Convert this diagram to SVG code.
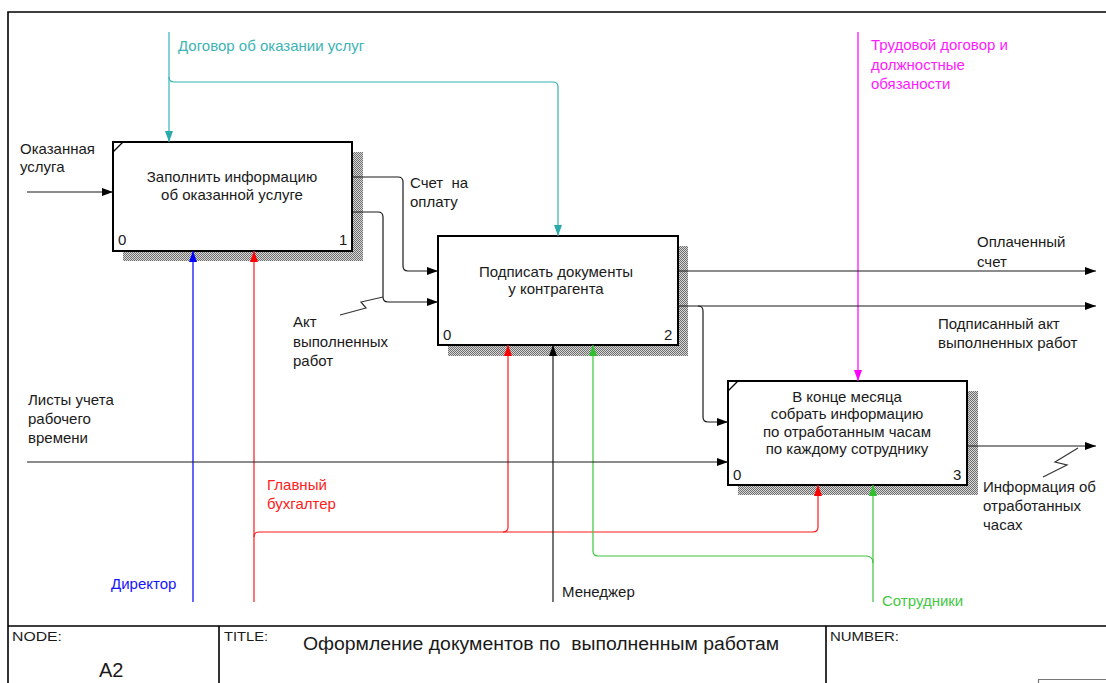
<svg xmlns="http://www.w3.org/2000/svg" width="1106" height="683" viewBox="0 0 1106 683">
  <defs>
    <style>
      text { font-family: "Liberation Sans", Arial, sans-serif; font-size: 15px; fill: #1a1a1a; white-space: pre; }
      .box { fill: #ffffff; stroke: #000000; stroke-width: 2; }
      .shadow { fill: url(#hatch); }
      .ctr { text-anchor: middle; }
      .conn path { fill: none; stroke-width: 1.2; }
      .blk { stroke: #1a1a1a; }
      .teal { stroke: #38b2b2; }
      .red { stroke: #ff1a1a; }
      .blue { stroke: #0000ff; }
      .green { stroke: #3ec43e; }
      .mag { stroke: #ff00ff; }
      .zig { stroke: #333333; stroke-width: 1; }
      .frame { fill: none; stroke: #000000; stroke-width: 1.6; }
      .tb { font-size: 13px; }
    </style>
    <pattern id="hatch" width="2" height="2" patternUnits="userSpaceOnUse">
      <rect width="2" height="2" fill="#d8d8d8"/>
      <rect width="1" height="1" fill="#6e6e6e"/>
      <rect x="1" y="1" width="1" height="1" fill="#6e6e6e"/>
    </pattern>
    <marker id="ah" markerUnits="userSpaceOnUse" markerWidth="11" markerHeight="8" refX="11" refY="4" orient="auto">
      <path d="M0,0 L11,4 L0,8 z" fill="#000000"/>
    </marker>
    <marker id="ah-teal" markerUnits="userSpaceOnUse" markerWidth="11" markerHeight="8" refX="11" refY="4" orient="auto">
      <path d="M0,0 L11,4 L0,8 z" fill="#2aabab"/>
    </marker>
    <marker id="ah-red" markerUnits="userSpaceOnUse" markerWidth="11" markerHeight="8" refX="11" refY="4" orient="auto">
      <path d="M0,0 L11,4 L0,8 z" fill="#ff0000"/>
    </marker>
    <marker id="ah-blue" markerUnits="userSpaceOnUse" markerWidth="11" markerHeight="8" refX="11" refY="4" orient="auto">
      <path d="M0,0 L11,4 L0,8 z" fill="#0000ff"/>
    </marker>
    <marker id="ah-green" markerUnits="userSpaceOnUse" markerWidth="11" markerHeight="8" refX="11" refY="4" orient="auto">
      <path d="M0,0 L11,4 L0,8 z" fill="#2fbf2f"/>
    </marker>
    <marker id="ah-mag" markerUnits="userSpaceOnUse" markerWidth="11" markerHeight="8" refX="11" refY="4" orient="auto">
      <path d="M0,0 L11,4 L0,8 z" fill="#ff00ff"/>
    </marker>
  </defs>

  <rect width="1106" height="683" fill="#ffffff"/>

  <!-- drawing frame and title block -->
  <g id="frame">
    <path class="frame" d="M8,683 V12 H1106"/>
    <path class="frame" d="M8,626 H1106 M219,626 V683 M826,626 V683"/>
    <path d="M1038.5,683 V679.5 H1106" fill="none" stroke="#777777" stroke-width="1.2"/>
    <text class="tb" x="12" y="641" textLength="50" lengthAdjust="spacingAndGlyphs">NODE:</text>
    <text class="tb" x="224" y="641" textLength="44" lengthAdjust="spacingAndGlyphs">TITLE:</text>
    <text class="tb" x="830" y="641" textLength="69" lengthAdjust="spacingAndGlyphs">NUMBER:</text>
    <text x="99" y="677" style="font-size:20px">A2</text>
    <text x="303" y="650" style="font-size:18px" textLength="476" lengthAdjust="spacingAndGlyphs">Оформление документов по  выполненным работам</text>
  </g>

  <!-- activity boxes -->
  <g id="node-a21">
    <rect class="shadow" x="123" y="152" width="240" height="109"/>
    <rect class="box" x="113" y="142" width="239" height="109"/>
    <path d="M113,152 L123,142" stroke="#000" stroke-width="1.2"/>
    <text class="ctr" x="232" y="182">Заполнить информацию</text>
    <text class="ctr" x="232" y="200">об оказанной услуге</text>
    <text x="118" y="245">0</text>
    <text x="339" y="245">1</text>
  </g>

  <g id="node-a22">
    <rect class="shadow" x="448" y="246" width="240" height="110"/>
    <rect class="box" x="438" y="236" width="240" height="109"/>
    <text class="ctr" x="556" y="277">Подписать документы</text>
    <text class="ctr" x="556" y="294">у контрагента</text>
    <text x="443" y="340">0</text>
    <text x="664" y="340">2</text>
  </g>

  <g id="node-a23">
    <rect class="shadow" x="738" y="391" width="240" height="104"/>
    <rect class="box" x="728" y="381" width="239" height="104"/>
    <path d="M728,391 L738,381" stroke="#000" stroke-width="1.2"/>
    <text class="ctr" x="847" y="402">В конце месяца</text>
    <text class="ctr" x="847" y="419">собрать информацию</text>
    <text class="ctr" x="847" y="437">по отработанным часам</text>
    <text class="ctr" x="847" y="454">по каждому сотруднику</text>
    <text x="733" y="480">0</text>
    <text x="953" y="480">3</text>
  </g>

  <!-- connectors -->
  <g id="connectors" class="conn">
    <path class="blk" d="M27,192 H113" marker-end="url(#ah)"/>
    <path class="teal" d="M169,32 V142" marker-end="url(#ah-teal)"/>
    <path class="teal" d="M169,77 Q169,82 174,82 H553 Q558,82 558,87 V236" marker-end="url(#ah-teal)"/>
    <path class="blk" d="M353,177 H398 Q403,177 403,182 V266 Q403,271 408,271 H438" marker-end="url(#ah)"/>
    <path class="blk" d="M353,212 H378 Q383,212 383,217 V297 Q383,302 388,302 H438" marker-end="url(#ah)"/>
    <path class="zig" d="M383,297 L361,302 L366,308 L340,315"/>
    <path class="blue" d="M193,602 V251" marker-end="url(#ah-blue)"/>
    <path class="red" d="M254,602 V251" marker-end="url(#ah-red)"/>
    <path class="red" d="M254,537 Q254,532 259,532 H813 Q818,532 818,527 V485" marker-end="url(#ah-red)"/>
    <path class="red" d="M503,532 Q508,532 508,527 V345" marker-end="url(#ah-red)"/>
    <path class="blk" d="M553,602 V345" marker-end="url(#ah)"/>
    <path class="green" d="M873,602 V485" marker-end="url(#ah-green)"/>
    <path class="green" d="M873,563 Q873,556 866,556 H598 Q593,556 593,551 V345" marker-end="url(#ah-green)"/>
    <path class="mag" d="M858,32 V381" marker-end="url(#ah-mag)"/>
    <path class="blk" d="M27,462 H728" marker-end="url(#ah)"/>
    <path class="blk" d="M679,271 H1096" marker-end="url(#ah)"/>
    <path class="blk" d="M679,306 H1096" marker-end="url(#ah)"/>
    <path class="blk" d="M698,306 Q703,306 703,311 V417 Q703,422 708,422 H728" marker-end="url(#ah)"/>
    <path class="blk" d="M968,446 H1096" marker-end="url(#ah)"/>
    <path class="zig" d="M1078,448 L1055,462 L1067,465 L1043,477"/>
  </g>

  <!-- connector labels -->
  <g id="labels">
    <text x="20" y="154">Оказанная</text>
    <text x="20" y="172">услуга</text>
    <text x="178" y="51" style="fill:#3cb4b4">Договор об оказании услуг</text>
    <text x="410" y="188">Счет  на</text>
    <text x="410" y="207">оплату</text>
    <text x="293" y="327">Акт</text>
    <text x="293" y="347">выполненных</text>
    <text x="293" y="366">работ</text>
    <text x="28" y="405">Листы учета</text>
    <text x="28" y="424">рабочего</text>
    <text x="28" y="443">времени</text>
    <text x="267" y="490" style="fill:#ff2020">Главный</text>
    <text x="267" y="509" style="fill:#ff2020">бухгалтер</text>
    <text x="111" y="589" style="fill:#1414ff">Директор</text>
    <text x="562" y="597">Менеджер</text>
    <text x="882" y="606" style="fill:#44c844">Сотрудники</text>
    <text x="871" y="50" style="fill:#ff1aff">Трудовой договор и</text>
    <text x="871" y="70" style="fill:#ff1aff">должностные</text>
    <text x="871" y="89" style="fill:#ff1aff">обязаности</text>
    <text x="977" y="247">Оплаченный</text>
    <text x="977" y="267">счет</text>
    <text x="938" y="329">Подписанный акт</text>
    <text x="938" y="348">выполненных работ</text>
    <text x="983" y="492">Информация об</text>
    <text x="983" y="511">отработанных</text>
    <text x="983" y="530">часах</text>
  </g>
</svg>
